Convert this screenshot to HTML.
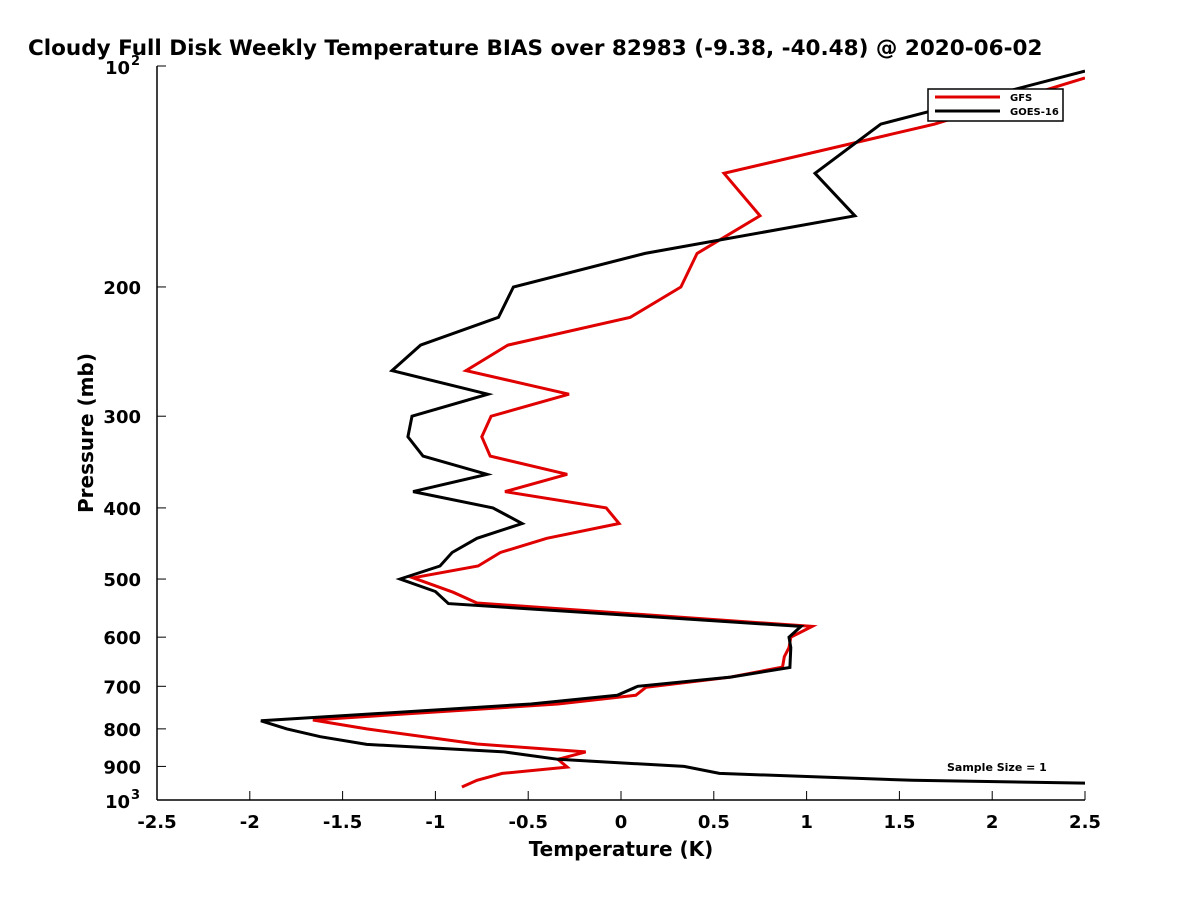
<!DOCTYPE html>
<html><head><meta charset="utf-8">
<style>
body{margin:0;background:#fff;}
svg{font-family:"DejaVu Sans","Liberation Sans",sans-serif;}
</style></head>
<body>
<svg id="chart" width="1200" height="900" viewBox="0 0 1200 900" xmlns="http://www.w3.org/2000/svg">
<defs><clipPath id="plotclip"><rect x="157" y="66" width="928" height="734"/></clipPath></defs>
<rect x="0" y="0" width="1200" height="900" fill="#fff"/>
<text x="28" y="55" font-size="21.5" font-weight="bold">Cloudy Full Disk Weekly Temperature BIAS over 82983 (-9.38, -40.48) @ 2020-06-02</text>
<g id="axes"></g>
<g id="series" clip-path="url(#plotclip)"></g>
<g>
<rect x="928" y="89" width="135" height="32" fill="#fff" stroke="#000" stroke-width="1.5"/>
<line x1="935" y1="97" x2="1000" y2="97" stroke="#e00000" stroke-width="3"/>
<text x="1010" y="101" font-size="10" font-weight="bold">GFS</text>
<line x1="935" y1="111" x2="1000" y2="111" stroke="#000" stroke-width="3"/>
<text x="1010" y="115" font-size="10" font-weight="bold">GOES-16</text>
</g>
<text x="947" y="771" font-size="11" font-weight="bold">Sample Size = 1</text>
<text x="621" y="856" font-size="20" font-weight="bold" text-anchor="middle">Temperature (K)</text>
<text transform="translate(93,433) rotate(-90)" font-size="20" font-weight="bold" text-anchor="middle">Pressure (mb)</text>
</svg>
<script>
const xTicks = [-2.5,-2,-1.5,-1,-0.5,0,0.5,1,1.5,2,2.5];
const xTickLabels = ["-2.5","-2","-1.5","-1","-0.5","0","0.5","1","1.5","2","2.5"];
const yTicks = [200,300,400,500,600,700,800,900];
const yTickLabels = ["200","300","400","500","600","700","800","900"];
const gfsPressure = [103.8,120,140,160,180,200,220,240,260,280,300,320,340,360,380,400,420,440,460,480,498,521,539,580,600,620,638,659,680,702,720,740,778,800,839,860,880,902,920,940,960];
const gfsTemp = [2.50,1.69,0.555,0.749,0.41,0.323,0.05,-0.61,-0.835,-0.28,-0.70,-0.75,-0.705,-0.29,-0.625,-0.08,-0.01,-0.40,-0.65,-0.77,-1.12,-0.905,-0.776,1.03,0.915,0.905,0.88,0.87,0.59,0.135,0.08,-0.34,-1.66,-1.37,-0.776,-0.19,-0.34,-0.29,-0.64,-0.776,-0.857];
const goesPressure = [101.6,120,140,160,180,200,220,240,260,280,300,320,340,360,380,400,420,440,460,480,500,520,540,580,600,620,660,680,700,720,740,780,800,820,840,860,880,900,920,940,960];
const goesTemp = [2.50,1.40,1.045,1.26,0.13,-0.58,-0.66,-1.08,-1.234,-0.717,-1.126,-1.148,-1.067,-0.722,-1.12,-0.69,-0.533,-0.776,-0.91,-0.975,-1.19,-1.0,-0.93,0.97,0.905,0.915,0.91,0.59,0.09,-0.02,-0.485,-1.94,-1.8,-1.62,-1.37,-0.63,-0.34,0.34,0.53,1.57,3.8];

const NS = "http://www.w3.org/2000/svg";
const X0 = 157, X1 = 1085, Y0 = 66, Y1 = 800;
function xScale(t){ return X0 + (t + 2.5) / 5 * (X1 - X0); }
function yScale(p){ return Y0 + (Math.log10(p) - 2) * (Y1 - Y0); }
function mk(tag, attrs, parent){
  const e = document.createElementNS(NS, tag);
  for (const k in attrs) e.setAttribute(k, attrs[k]);
  parent.appendChild(e);
  return e;
}
const axes = document.getElementById('axes');
let a = mk('line', {x1:X0, y1:Y0, x2:X0, y2:Y1, stroke:'#000', 'stroke-width':1.5}, axes);


a = mk('line', {x1:X0, y1:Y1, x2:X1, y2:Y1, stroke:'#000', 'stroke-width':1.5}, axes);


xTicks.forEach((t, i) => {
  const x = xScale(t);
  const tk = mk('line', {x1:x, y1:Y1, x2:x, y2:Y1 - 9, stroke:'#000', 'stroke-width':1}, axes);
  
  
  const lb = mk('text', {x:x, y:828, 'font-size':18, 'font-weight':'bold', 'text-anchor':'middle'}, axes);
  lb.textContent = xTickLabels[i];
  
  
});
yTicks.forEach((p, i) => {
  const y = yScale(p);
  const tk = mk('line', {x1:X0, y1:y, x2:X0 + 9, y2:y, stroke:'#000', 'stroke-width':1}, axes);
  
  
  const lb = mk('text', {x:141, y:y + 7, 'font-size':18, 'font-weight':'bold', 'text-anchor':'end'}, axes);
  lb.textContent = yTickLabels[i];
  
  
});
[[100, 'y-tick-label-100'], [1000, 'y-tick-label-1000']].forEach(([p, n]) => {
  const y = yScale(p);
  const tk = mk('line', {x1:X0, y1:y, x2:X0 + 9, y2:y, stroke:'#000', 'stroke-width':1}, axes);
  
  
  const lb = mk('text', {x:130, y:y + 8, 'font-size':18, 'font-weight':'bold', 'text-anchor':'end'}, axes);
  lb.textContent = '10';
  
  
  const sp = mk('text', {x:131, y:y - 1, 'font-size':13, 'font-weight':'bold'}, axes);
  sp.textContent = p === 100 ? '2' : '3';
  
  
});
const series = document.getElementById('series');
function drawLine(ps, ts, color, name){
  const pts = ps.map((p, i) => xScale(ts[i]).toFixed(1) + ',' + yScale(p).toFixed(1)).join(' ');
  const l = mk('polyline', {points:pts, fill:'none', stroke:color, 'stroke-width':3, 'stroke-linejoin':'miter'}, series);
  
  
}
drawLine(gfsPressure, gfsTemp, '#e00000', 'gfs-line');
drawLine(goesPressure, goesTemp, '#000000', 'goes16-line');
</script>
</body></html>
